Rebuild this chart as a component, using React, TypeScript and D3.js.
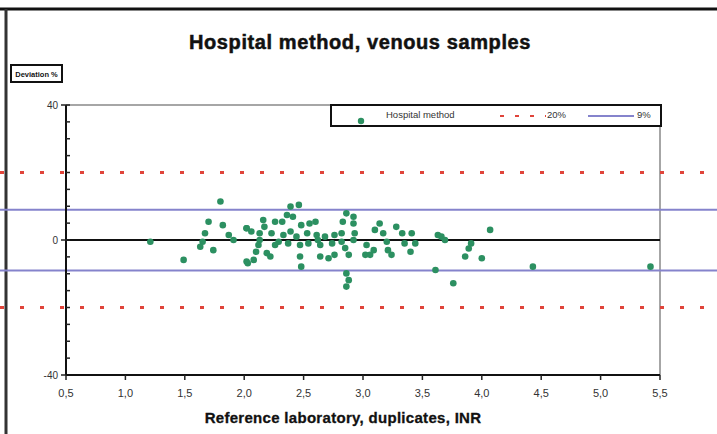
import React, { useEffect, useRef } from 'react';
import * as d3 from 'd3';

// reference INR (x) and deviation % (y)
const refINR = [
  1.21, 1.49, 1.8, 1.7, 1.82, 1.67, 1.65, 1.63, 1.74, 1.87, 1.91, 2.02, 2.02,
  2.39, 2.46, 2.36, 2.41, 2.16, 2.26, 2.32, 2.02, 2.06, 2.17, 2.48, 2.55, 2.6,
  2.13, 2.23, 2.33, 2.39, 2.44, 2.53, 2.61, 2.68, 2.76, 2.83, 2.29, 2.37, 2.47,
  2.54, 2.64, 2.74, 2.12, 2.1, 2.19, 2.08, 2.03, 2.22, 2.47, 2.48, 2.64, 2.71,
  2.86, 2.88, 2.86, 2.92, 2.92, 2.82, 2.93, 2.82, 2.92, 3.14, 3.1, 3.17, 3.28,
  3.33, 3.41, 3.44, 3.35, 3.2, 3.03, 3.09, 3.02, 3.24, 3.4, 3.21, 3.63, 3.61,
  2.86, 2.88, 3.06, 3.66, 3.69, 4.07, 3.91, 3.89, 3.86, 4.0, 4.43, 3.76, 5.42,
  2.76, 2.85, 2.62, 2.13, 2.26,
];
const deviation = [
  -0.5, -5.9, 11.4, 5.4, 4.4, 2.0, -0.5, -2.0, -3.0, 1.5, 0.0, 3.5, -6.4,
  9.9, 10.4, 7.4, 6.9, 5.9, 5.4, 5.4, 3.5, 2.5, 3.9, 4.4, 4.9, 5.4,
  2.0, 2.0, 1.5, 2.5, 1.0, 2.0, 1.5, 1.0, 1.5, 5.4, -0.5, -1.0, -1.5,
  -1.0, -1.5, -1.0, -1.5, -3.5, -3.9, -5.9, -6.9, -4.9, -4.9, -7.9, -4.9, -5.4,
  -13.8, -11.9, 7.9, 6.9, 4.9, 2.0, 2.0, -0.5, 0.0, 4.9, 3.0, 2.0, 3.9,
  2.0, 2.0, -1.0, -1.0, -0.5, -1.5, -3.0, -4.4, -4.4, -3.5, -3.0, 1.5, -8.9,
  -9.9, -4.4, -4.4, 1.0, 0.0, 3.0, -1.0, -2.5, -4.9, -5.4, -7.9, -12.8, -7.9,
  -4.4, -2.4, 0.0, 0.0, -1.5,
];
const xTicks = [0.5, 1.0, 1.5, 2.0, 2.5, 3.0, 3.5, 4.0, 4.5, 5.0, 5.5];
const yLabels = [40, 0, -40];
const limit20 = [20, -20];
const limit9 = [9, -9];

const W = 717;
const H = 434;

const App = () => {
  const ref = useRef<SVGSVGElement>(null);

  useEffect(() => {
    const svg = d3.select(ref.current);
    svg.selectAll('*').remove();

    const x = d3.scaleLinear().domain([0.5, 5.5]).range([66, 660]);
    const y = d3.scaleLinear().domain([-40, 40]).range([375, 105]);
    const font = 'Liberation Sans, Arial, sans-serif';

    svg.append('rect').attr('width', W).attr('height', H).attr('fill', '#fff');

    // outer frame
    svg.append('line').attr('x1', 0).attr('x2', W).attr('y1', 9).attr('y2', 9)
      .attr('stroke', '#111').attr('stroke-width', 3);
    svg.append('line').attr('x1', 6).attr('x2', 6).attr('y1', 9).attr('y2', H)
      .attr('stroke', '#333').attr('stroke-width', 3);

    // title
    svg.append('text').attr('x', 360).attr('y', 49).attr('text-anchor', 'middle')
      .attr('font-family', font).attr('font-weight', 'bold').attr('font-size', 20)
      .attr('letter-spacing', 0.6).attr('stroke', '#111').attr('stroke-width', 0.5)
      .attr('fill', '#111').text('Hospital method, venous samples');

    // y-axis label box
    svg.append('rect').attr('x', 11).attr('y', 65).attr('width', 51).attr('height', 17)
      .attr('fill', '#fff').attr('stroke', '#111').attr('stroke-width', 2);
    svg.append('text').attr('x', 36.5).attr('y', 76.5).attr('text-anchor', 'middle')
      .attr('font-family', font).attr('font-weight', 'bold').attr('font-size', 7.5)
      .attr('fill', '#111').text('Deviation %');

    // plot frame (top / right)
    svg.append('line').attr('x1', x(0.5)).attr('x2', x(5.5)).attr('y1', y(40)).attr('y2', y(40))
      .attr('stroke', '#888').attr('stroke-width', 1.5);
    svg.append('line').attr('x1', x(5.5)).attr('x2', x(5.5)).attr('y1', y(40)).attr('y2', y(-40))
      .attr('stroke', '#888').attr('stroke-width', 1.5);

    // limit lines across whole width
    svg.selectAll('.l20').data(limit20).join('line')
      .attr('x1', 0).attr('x2', W).attr('y1', (d) => y(d)).attr('y2', (d) => y(d))
      .attr('stroke', '#e0443a').attr('stroke-width', 3).attr('stroke-dasharray', '4,16');
    svg.selectAll('.l9').data(limit9).join('line')
      .attr('x1', 0).attr('x2', W).attr('y1', (d) => y(d)).attr('y2', (d) => y(d))
      .attr('stroke', '#8583cc').attr('stroke-width', 2);

    // zero line
    svg.append('line').attr('x1', x(0.5)).attr('x2', x(5.5)).attr('y1', y(0)).attr('y2', y(0))
      .attr('stroke', '#111').attr('stroke-width', 2);

    // points
    svg.append('g').selectAll('circle').data(refINR).join('circle')
      .attr('cx', (d) => x(d)).attr('cy', (d, i) => y(deviation[i]))
      .attr('r', 3.3).attr('fill', '#2c9061');

    // y axis
    const yAxis = svg.append('g');
    yAxis.append('line').attr('x1', x(0.5)).attr('x2', x(0.5)).attr('y1', y(40)).attr('y2', y(-40))
      .attr('stroke', '#111').attr('stroke-width', 2);
    yAxis.selectAll('.minor').data(d3.range(-40, 41, 5)).join('line')
      .attr('x1', x(0.5)).attr('x2', x(0.5) + 4).attr('y1', (d) => y(d)).attr('y2', (d) => y(d))
      .attr('stroke', '#222').attr('stroke-width', 1.5);
    yAxis.selectAll('.major').data(yLabels).join('line')
      .attr('x1', x(0.5) - 5).attr('x2', x(0.5)).attr('y1', (d) => y(d)).attr('y2', (d) => y(d))
      .attr('stroke', '#222').attr('stroke-width', 1.5);
    yAxis.selectAll('text').data(yLabels).join('text')
      .attr('x', x(0.5) - 8).attr('y', (d) => y(d) + 4).attr('text-anchor', 'end')
      .attr('font-family', font).attr('font-size', 10).attr('fill', '#333')
      .text((d) => String(d));

    // x axis
    const xAxis = svg.append('g');
    xAxis.append('line').attr('x1', x(0.5)).attr('x2', x(5.5)).attr('y1', y(-40)).attr('y2', y(-40))
      .attr('stroke', '#111').attr('stroke-width', 2);
    xAxis.selectAll('.tick').data(xTicks).join('line')
      .attr('x1', (d) => x(d)).attr('x2', (d) => x(d)).attr('y1', y(-40)).attr('y2', y(-40) + 5)
      .attr('stroke', '#222').attr('stroke-width', 1.5);
    xAxis.selectAll('text').data(xTicks).join('text')
      .attr('x', (d) => x(d)).attr('y', y(-40) + 22).attr('text-anchor', 'middle')
      .attr('font-family', font).attr('font-size', 11).attr('fill', '#333')
      .text((d) => d3.format('.1f')(d).replace('.', ','));
    svg.append('text').attr('x', 343).attr('y', 423).attr('text-anchor', 'middle')
      .attr('font-family', font).attr('font-weight', 'bold').attr('font-size', 15)
      .attr('letter-spacing', 0.3).attr('stroke', '#111').attr('stroke-width', 0.3)
      .attr('fill', '#111').text('Reference laboratory, duplicates, INR');

    // legend
    const lg = svg.append('g');
    lg.append('rect').attr('x', 331).attr('y', 105).attr('width', 330).attr('height', 21)
      .attr('fill', '#fff').attr('stroke', '#111').attr('stroke-width', 2);
    lg.append('circle').attr('cx', 361).attr('cy', 121).attr('r', 3.2).attr('fill', '#2c9061');
    lg.append('text').attr('x', 386).attr('y', 118).attr('font-family', font)
      .attr('font-size', 9.5).attr('fill', '#333').text('Hospital method');
    lg.append('line').attr('x1', 500).attr('x2', 546).attr('y1', 116).attr('y2', 116)
      .attr('stroke', '#e0443a').attr('stroke-width', 2).attr('stroke-dasharray', '4,11');
    lg.append('text').attr('x', 547).attr('y', 118).attr('font-family', font)
      .attr('font-size', 9.5).attr('fill', '#333').text('20%');
    lg.append('line').attr('x1', 588).attr('x2', 634).attr('y1', 116).attr('y2', 116)
      .attr('stroke', '#8583cc').attr('stroke-width', 2);
    lg.append('text').attr('x', 637).attr('y', 118).attr('font-family', font)
      .attr('font-size', 9.5).attr('fill', '#333').text('9%');
  }, []);

  return (
    <svg
      ref={ref}
      width={W}
      height={H}
      style={{ position: 'absolute', left: 0, top: 0, display: 'block' }}
    />
  );
};

export default App;
